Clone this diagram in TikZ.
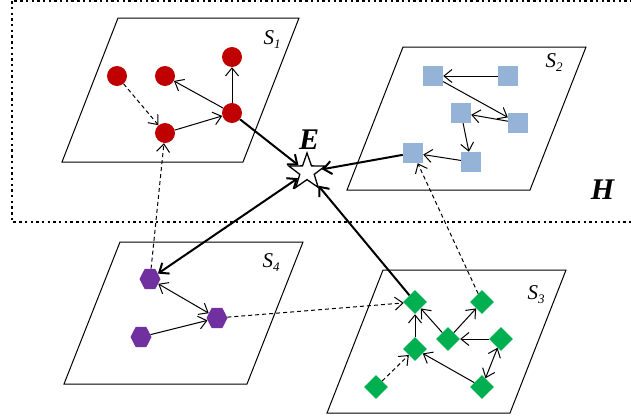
\documentclass[tikz,border=0pt]{standalone}
\usepackage{fontspec}
\setmainfont{Liberation Serif}
\usetikzlibrary{shapes.geometric,arrows.meta}
\definecolor{cred}{HTML}{C00000}
\definecolor{cblue}{HTML}{95B3D7}
\definecolor{cpurple}{HTML}{7030A0}
\definecolor{cgreen}{HTML}{00B050}
\newcommand{\slab}[1]{\fontsize{21}{21}\selectfont\textit{S}\raisebox{-4pt}{\fontsize{13}{13}\selectfont\textit{#1}}}
\begin{document}
\begin{tikzpicture}[x=1pt,y=-1pt,
  >={Straight Barb[length=8pt,width=13pt]},
  plane/.style={draw=black,line width=1pt},
  rc/.style={circle,fill=cred,minimum size=20pt,inner sep=0pt},
  bs/.style={rectangle,fill=cblue,minimum size=20pt,inner sep=0pt},
  ph/.style={regular polygon,regular polygon sides=6,fill=cpurple,minimum size=21pt,inner sep=0pt,yscale=1.12,transform shape},
  gd/.style={diamond,aspect=1,fill=cgreen,minimum width=24pt,minimum height=24pt,inner sep=0pt},
  ed/.style={->,line width=1pt},
  ded/.style={->,line width=1pt,dash pattern=on 4pt off 3pt},
  thk/.style={line width=2pt},
  lab/.style={inner sep=0pt}]
\useasboundingbox (0,0) rectangle (631,418);
\clip (0,0) rectangle (631,418);
% dotted H region
\draw[line width=2.4pt,dash pattern=on 2.4pt off 3.3pt] (12,1.2) rectangle (660,222);
% planes
\draw[plane] (62,162) -- (243,162) -- (299,18) -- (118,18) -- cycle;
\draw[plane] (347,190) -- (530,190) -- (586,47) -- (403,47) -- cycle;
\draw[plane] (64,384) -- (247,384) -- (303,242) -- (120,242) -- cycle;
\draw[plane] (327,413) -- (510,413) -- (566,270) -- (383,270) -- cycle;
% labels
\node[lab] (s1) at (272,40) {\slab{1}};
\node[lab] (s2) at (554,63) {\slab{2}};
\node[lab] (s4) at (271,263) {\slab{4}};
\node[lab] (s3) at (536,295) {\slab{3}};
\node[lab] (el) at (309,140) {\fontsize{30}{30}\selectfont\textbf{\textit{E}}};
\node[lab] (hl) at (603,190) {\fontsize{30}{30}\selectfont\textbf{\textit{H}}};
% star
\node[star,star points=5,star point ratio=2.5,minimum size=38pt,inner sep=0pt,draw=black,fill=white,line width=1.3pt] (E) at (307,172) {};
% S1 nodes
\node[rc] (a1) at (117,76) {};
\node[rc] (a2) at (165,76) {};
\node[rc] (a3) at (232,57) {};
\node[rc] (a4) at (232,113) {};
\node[rc] (a5) at (165,133) {};
% S2 nodes
\node[bs] (b1) at (433,76) {};
\node[bs] (b2) at (508,76) {};
\node[bs] (b3) at (461,113) {};
\node[bs] (b4) at (518,123) {};
\node[bs] (b5) at (413,153) {};
\node[bs] (b6) at (471,162) {};
% S4 nodes
\node[ph] (h1) at (150,279) {};
\node[ph] (h2) at (217,318) {};
\node[ph] (h3) at (141,337) {};
% S3 nodes
\node[gd] (c1) at (415,302) {};
\node[gd] (c2) at (482,302) {};
\node[gd] (c3) at (448,339) {};
\node[gd] (c4) at (501,339) {};
\node[gd] (c5) at (415,349) {};
\node[gd] (c6) at (482,387) {};
\node[gd] (c7) at (376,387) {};
% S1 edges
\draw[ded] (a1) -- (a5);
\draw[ed] (a5) -- (a4);
\draw[ed] (a4) -- (a2);
\draw[ed] (a4) -- (a3);
% S2 edges
\draw[ed] (b2) -- (b1);
\draw[ed] (b1) -- (b4);
\draw[ed] (b4) -- (b3);
\draw[ed] (b3) -- (b6);
\draw[ed] (b6) -- (b5);
% S4 edges
\draw[ed,<->] (h1) -- (h2);
\draw[ed] (h3) -- (h2);
% S3 edges
\draw[ed] (c5) -- (c1);
\draw[ed] (c3) -- (c1);
\draw[ed] (c3) -- (c2);
\draw[ed] (c4) -- (c3);
\draw[ed,<->] (c4) -- (c6);
\draw[ed] (c6) -- (c5);
\draw[ded] (c7) -- (c5);
% inter-layer dashed
\draw[ded] (h1) -- (a5);
\draw[ded] (h2) -- (c1);
\draw[ded] (c2) -- (b5);
% thick edges to E
\draw[thk,->] (a4) -- (E);
\draw[thk,->] (b5) -- (E);
\draw[thk,->] (c1) -- (E);
\draw[thk,<->] (h1) -- (E);
\end{tikzpicture}
\end{document}
